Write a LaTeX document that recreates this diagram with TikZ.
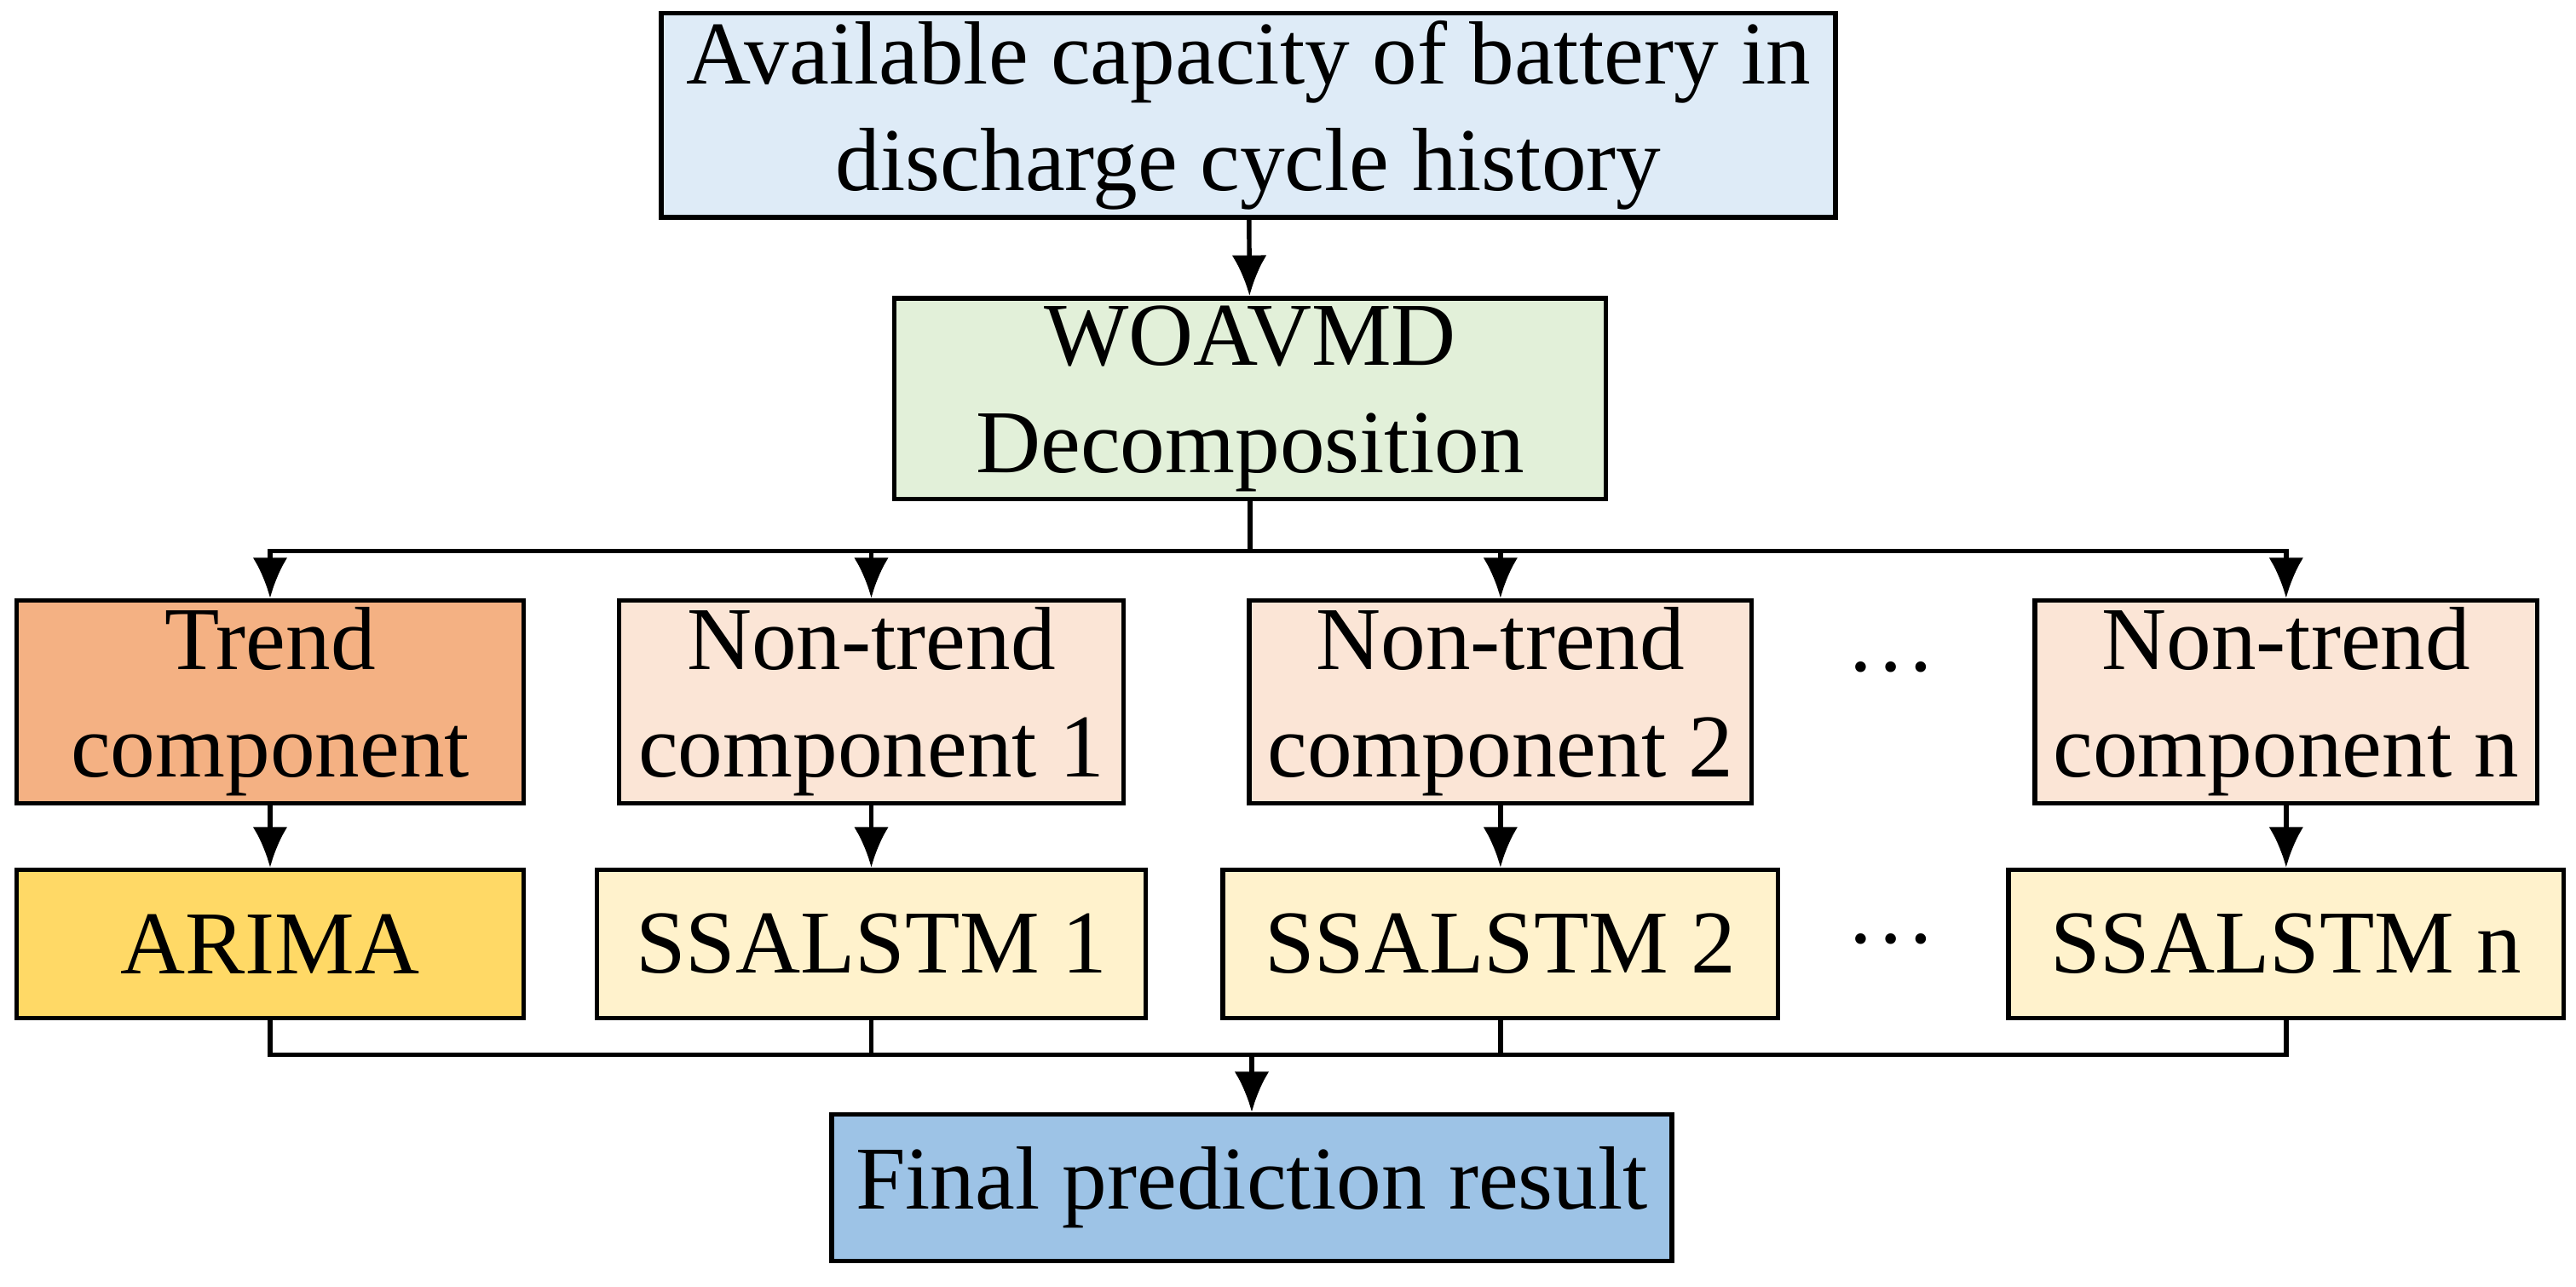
\documentclass[tikz,border=0pt]{standalone}
\usepackage{fontspec}
\setmainfont{Liberation Serif}
\usetikzlibrary{arrows.meta}
\definecolor{capBlue}{RGB}{222,235,247}
\definecolor{decGreen}{RGB}{226,240,217}
\definecolor{trendOrange}{RGB}{244,177,131}
\definecolor{compPeach}{RGB}{251,229,214}
\definecolor{arimaGold}{RGB}{255,217,102}
\definecolor{lstmCream}{RGB}{255,242,204}
\definecolor{finalBlue}{RGB}{157,195,230}
\begin{document}
\begin{tikzpicture}[
    box/.style={draw, line width=1.6pt, align=center, inner sep=0pt,
      font=\fontsize{31}{37}\selectfont},
    link/.style={line width=1.6pt, -{Latex[length=14pt,width=12pt]}},
    line/.style={line width=1.6pt}]
\useasboundingbox (0,0) rectangle (31.28,-15.62);
% source and decomposition
\node[box, fill=capBlue, minimum width=14.26cm, minimum height=2.48cm] (cap) at (15.16,-1.40)
    {Available capacity of battery in\\discharge cycle history};
\node[box, fill=decGreen, minimum width=8.64cm, minimum height=2.44cm] (woa) at (15.18,-4.84)
    {WOAVMD\\Decomposition};
% components
\node[box, fill=trendOrange, minimum width=6.16cm, minimum height=2.46cm] (trend) at (3.28,-8.52)
    {Trend\\component};
\node[box, fill=compPeach, minimum width=6.12cm, minimum height=2.46cm] (nt1) at (10.58,-8.52)
    {Non-trend\\component 1};
\node[box, fill=compPeach, minimum width=6.10cm, minimum height=2.46cm] (nt2) at (18.22,-8.52)
    {Non-trend\\component 2};
\node[box, fill=compPeach, minimum width=6.10cm, minimum height=2.46cm] (ntn) at (27.76,-8.52)
    {Non-trend\\component n};
% models
\node[box, fill=arimaGold, minimum width=6.16cm, minimum height=1.80cm] (arima) at (3.28,-11.46) {ARIMA};
\node[box, fill=lstmCream, minimum width=6.66cm, minimum height=1.80cm] (ssa1) at (10.58,-11.46) {SSALSTM 1};
\node[box, fill=lstmCream, minimum width=6.74cm, minimum height=1.80cm] (ssa2) at (18.22,-11.46) {SSALSTM 2};
\node[box, fill=lstmCream, minimum width=6.74cm, minimum height=1.80cm] (ssan) at (27.76,-11.46) {SSALSTM n};
\node[font=\fontsize{31}{37}\selectfont] (dots1) at (22.96,-8.10) {\ldots};
\node[font=\fontsize{31}{37}\selectfont] (dots2) at (22.96,-11.40) {\ldots};
% result
\node[box, fill=finalBlue, minimum width=10.20cm, minimum height=1.78cm] (final) at (15.20,-14.42)
    {Final prediction result};
% connectors
\draw[link] (cap) -- (woa);
\coordinate (split) at ([yshift=-0.60cm]woa.south);
\coordinate (merge) at ([yshift=0.70cm]final.north);
\foreach \n in {trend, nt1, nt2, ntn} {
    \draw[link] (woa.south) -- (split) -| (\n.north);
}
\draw[link] (trend) -- (arima);
\draw[link] (nt1) -- (ssa1);
\draw[link] (nt2) -- (ssa2);
\draw[link] (ntn) -- (ssan);
\foreach \n in {arima, ssa1, ssa2, ssan} {
    \draw[line] (\n.south) |- (merge);
}
\draw[link] (merge) -- (final);
\end{tikzpicture}
\end{document}
